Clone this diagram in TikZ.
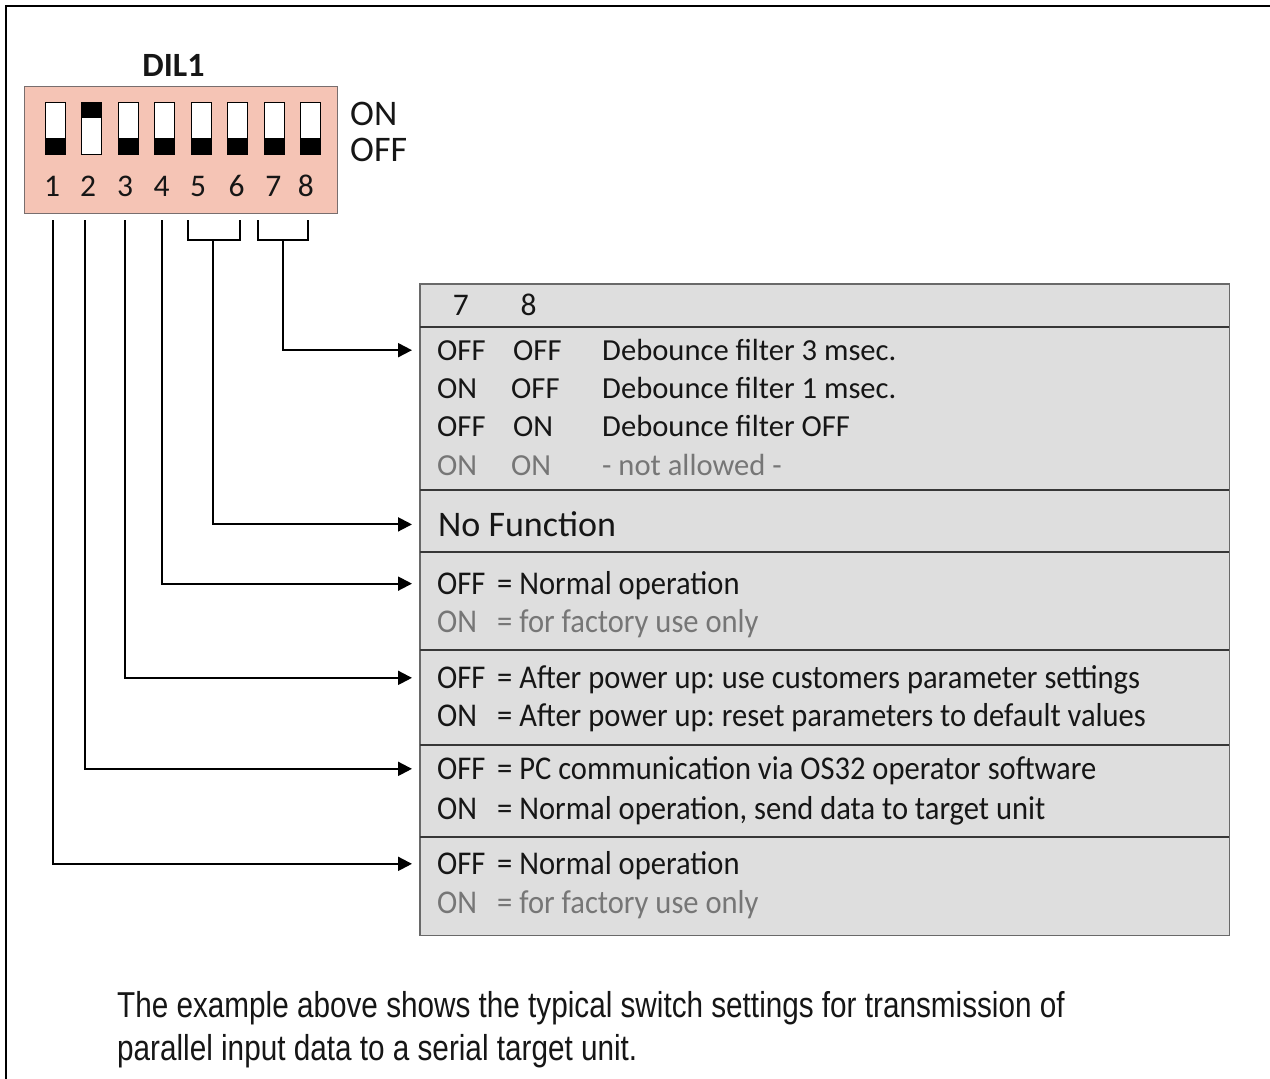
\documentclass[tikz,border=0pt]{standalone}
\usepackage{fontspec}
\setmainfont{Carlito}
\newfontfamily\condfont[FakeStretch=0.825]{Liberation Sans}
\newfontfamily\lowfont[FakeStretch=0.92]{Carlito}
\usetikzlibrary{arrows.meta}
\frenchspacing
\definecolor{pinkbox}{RGB}{245,196,181}
\definecolor{pinkedge}{RGB}{120,110,110}
\definecolor{tablefill}{RGB}{222,222,222}
\definecolor{tableedge}{RGB}{105,105,105}
\definecolor{sepline}{RGB}{55,55,55}
\definecolor{graytext}{RGB}{118,118,118}
\definecolor{textblack}{RGB}{22,22,22}
\newcommand\tabfont{\fontsize{30.6}{36}\selectfont}
\newcommand\lowtabfont{\lowfont\fontsize{33.2}{38}\selectfont}
\tikzset{
  frameline/.style={line width=2pt, black},
  swbox/.style={draw=black, line width=0.8pt, fill=white, minimum width=20pt, minimum height=52pt, inner sep=0pt, rectangle},
  conn/.style={line width=2pt, black, shorten >=8pt, -{Triangle[length=14pt,width=14pt]}},
  tickline/.style={line width=2pt, black},
  sect/.style={fill=tablefill, minimum width=809pt, anchor=north west, inner sep=0pt, rectangle},
  sepl/.style={line width=1.6pt, sepline},
  txt/.style={anchor=base west, inner sep=0pt, font=\tabfont, text=textblack},
  gtxt/.style={txt, text=graytext},
  ltxt/.style={anchor=base west, inner sep=0pt, font=\lowtabfont, text=textblack},
  lgtxt/.style={ltxt, text=graytext},
  numlab/.style={anchor=base, inner sep=0pt, font=\fontsize{31.5}{36}\selectfont, text=textblack},
  notetxt/.style={anchor=base west, inner sep=0pt, font=\condfont\fontsize{36}{40}\selectfont, text=textblack},
}
\begin{document}
\begin{tikzpicture}[x=1pt,y=-1pt]
\useasboundingbox (0,0) rectangle (1270,1079);
% frame
\draw[frameline] (6,1079) -- (6,6) -- (1270,6);

% DIP switch block
\node[anchor=base, inner sep=0pt, font=\bfseries\fontsize{34}{38}\selectfont, text=textblack] (dil) at (173.5,76.7) {DIL1};
\node[draw=pinkedge, line width=1pt, fill=pinkbox, anchor=north west, minimum width=313pt, minimum height=127pt, inner sep=0pt] (pink) at (24,86) {};
\foreach \i/\x in {1/55,2/91.5,3/128,4/164.5,5/201,6/237.5,7/274,8/310.5}{
  \node[swbox] (sw\i) at (\x,128) {};
}
\foreach \i in {1,3,4,5,6,7,8}{
  \fill[black] (sw\i.south west) rectangle ([yshift=16.7pt]sw\i.south east);
}
\fill[black] (sw2.north west) rectangle ([yshift=-16.7pt]sw2.north east);
\foreach \i/\x in {1/52,2/88,3/125,4/161.5,5/198,6/236.5,7/273.3,8/305.8}{
  \node[numlab] (n\i) at (\x,196.7) {\i};
}
\node[anchor=base west, inner sep=0pt, font=\fontsize{36}{40}\selectfont, text=textblack] (onl) at (350,125) {ON};
\node[anchor=base west, inner sep=0pt, font=\fontsize{36}{40}\selectfont, text=textblack] (offl) at (350,161.7) {OFF};

% ticks and brackets
\coordinate (t1) at (53,220);
\coordinate (t2) at (84.5,220);
\coordinate (t3) at (125,220);
\coordinate (t4) at (161.5,220);
\coordinate (b56) at (213,240);
\coordinate (b78) at (283,240);
\draw[tickline] (188,220) -- (188,240) -- (240,240) -- (240,220);
\draw[tickline] (258,220) -- (258,240) -- (308,240) -- (308,220);

% table sections
\node[sect, minimum height=43pt] (s78h) at (420,284) {};
\node[sect, minimum height=163pt] (s78) at (420,327) {};
\node[sect, minimum height=62pt] (s56) at (420,490) {};
\node[sect, minimum height=98pt] (s4) at (420,552) {};
\node[sect, minimum height=95pt] (s3) at (420,650) {};
\node[sect, minimum height=92pt] (s2) at (420,745) {};
\node[sect, minimum height=98pt] (s1) at (420,837) {};
\draw[line width=1.5pt, tableedge] (s78h.north west) rectangle (s1.south east);
\foreach \s in {s78,s56,s4,s3,s2,s1}{
  \draw[sepl] (\s.north west) -- (\s.north east);
}

% header 7 8
\node[numlab] (h7) at (460.8,315) {7};
\node[numlab] (h8) at (528.7,315) {8};

% 7-8 rows
\node[txt] (o78) at (437,360) {OFF};
\node[txt] at (513,360) {OFF};
\node[txt] at (602,360) {Debounce filter 3 msec.};
\node[txt] at (437,398.5) {ON};
\node[txt] at (511,398.5) {OFF};
\node[txt] at (602,398.5) {Debounce filter 1 msec.};
\node[txt] at (437,436.5) {OFF};
\node[txt] at (513,436.5) {ON};
\node[txt] at (602,436.5) {Debounce filter OFF};
\node[gtxt] at (437,475) {ON};
\node[gtxt] at (511,475) {ON};
\node[gtxt] at (602,475) {- not allowed -};

% 5-6
\node[anchor=base west, inner sep=0pt, font=\fontsize{36}{40}\selectfont, text=textblack] (nf) at (438,536.7) {No Function};

% 4
\node[ltxt] (o4) at (437,594.3) {OFF};
\node[ltxt] at (497,594.3) {= Normal operation};
\node[lgtxt] at (437,632) {ON};
\node[lgtxt] at (497,632) {= for factory use only};
% 3
\node[ltxt] (o3) at (437,688.5) {OFF};
\node[ltxt] at (497,688.5) {= After power up: use customers parameter settings};
\node[ltxt] at (437,726.5) {ON};
\node[ltxt] at (497,726.5) {= After power up: reset parameters to default values};
% 2
\node[ltxt] (o2) at (437,779.5) {OFF};
\node[ltxt] at (497,779.5) {= PC communication via OS32 operator software};
\node[ltxt] at (437,819) {ON};
\node[ltxt] at (497,819) {= Normal operation, send data to target unit};
% 1
\node[ltxt] (o1) at (437,874.5) {OFF};
\node[ltxt] at (497,874.5) {= Normal operation};
\node[lgtxt] at (437,913.5) {ON};
\node[lgtxt] at (497,913.5) {= for factory use only};

% connectors
\draw[conn] (b78) |- (s78.west |- o78);
\draw[conn] (b56) |- (s56.west |- nf);
\draw[conn] (t4) |- (s4.west |- o4);
\draw[conn] (t3) |- (s3.west |- o3);
\draw[conn] (t2) |- (s2.west |- o2);
\draw[conn] (t1) |- (s1.west |- o1);

% bottom note
\node[notetxt] (note1) at (117,1017) {The example above shows the typical switch settings for transmission of};
\node[notetxt] (note2) at (117,1060) {parallel input data to a serial target unit.};
\end{tikzpicture}
\end{document}
